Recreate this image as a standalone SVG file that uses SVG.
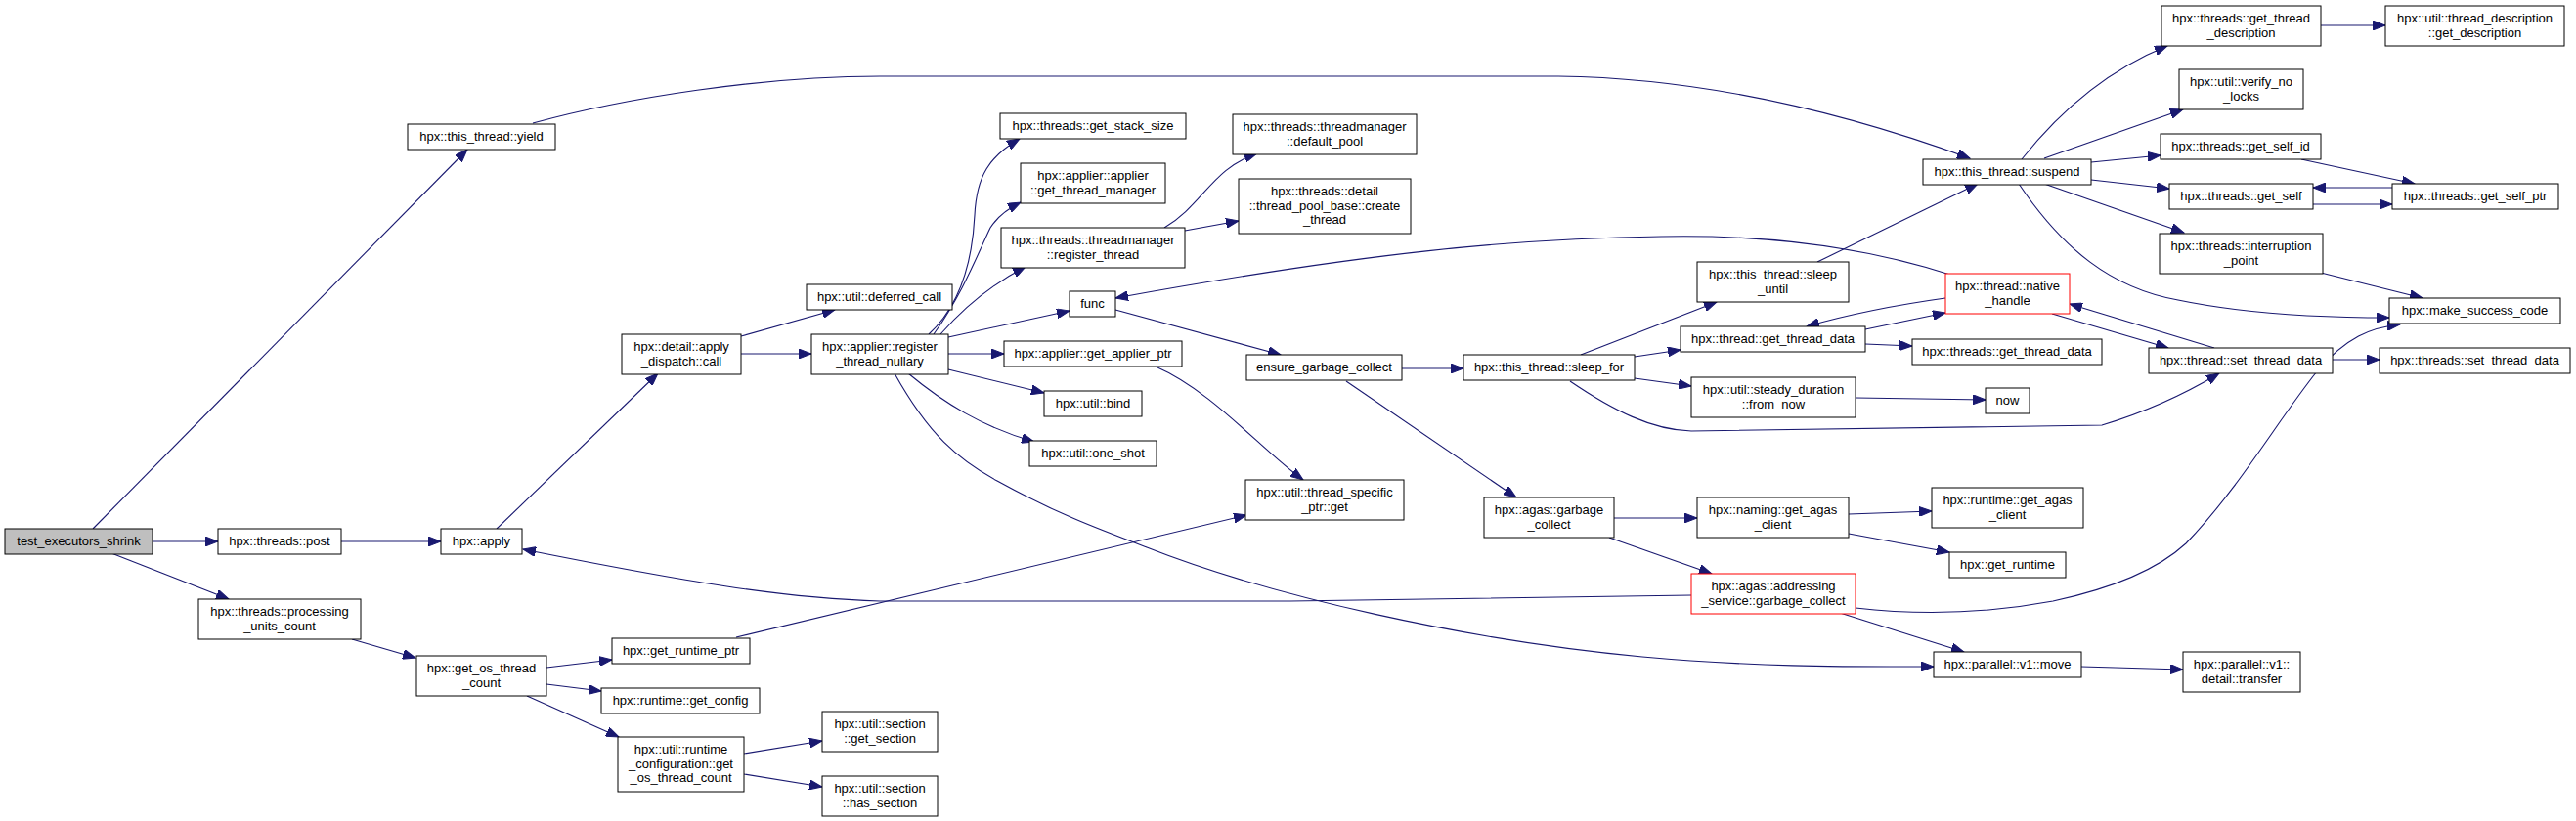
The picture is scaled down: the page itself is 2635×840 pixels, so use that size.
<svg xmlns="http://www.w3.org/2000/svg" width="2635" height="840" viewBox="0 0 2635 840">
<style>
rect{fill:#fff;stroke:#000;stroke-width:1}
.root rect{fill:#bfbfbf}
.red rect{stroke:#ff0000}
text{font-family:"Liberation Sans",Arial,sans-serif;font-size:13px;fill:#000;text-anchor:middle}
#edges path{fill:none;stroke:#191970;stroke-width:1.1;marker-end:url(#ah)}
</style>
<defs>
<marker id="ah" markerUnits="userSpaceOnUse" markerWidth="14" markerHeight="10" refX="13" refY="5" orient="auto" viewBox="0 0 14 10">
<path d="M0,0 L13,5 L0,10 z" fill="#191970" stroke="#191970" stroke-width="1"/>
</marker>
</defs>
<rect x="0" y="0" width="2635" height="840" style="fill:#fff;stroke:none"/>
<g id="edges">
<path d="M95,541 L478,153"/>
<path d="M156,554 L223,554"/>
<path d="M114,566 L234,613"/>
<path d="M349,554 L451,554"/>
<path d="M508,541 L673,382"/>
<path d="M758,344 L854,317"/>
<path d="M758,362 L830,362"/>
<path d="M950,342 C985,310 995,260 997,220 C999,180 1012,160 1043,142"/>
<path d="M955,342 C985,300 1000,260 1013,233 C1020,222 1030,214 1044,207"/>
<path d="M962,342 C990,310 1020,288 1049,273"/>
<path d="M1191,233 C1230,210 1240,172 1286,157"/>
<path d="M1212,236 L1267,226"/>
<path d="M970,345 L1094,318"/>
<path d="M970,362 L1027,362"/>
<path d="M970,378 L1068,402"/>
<path d="M929,382 C965,412 1005,437 1058,452"/>
<path d="M915,382 C950,445 980,470 1020,492 C1080,525 1120,540 1173,560 C1300,610 1500,655 1680,672 C1800,683 1900,682 1978,682"/>
<path d="M1182,375 C1240,400 1290,460 1333,491"/>
<path d="M753,652 L1275,527"/>
<path d="M1141,317 L1310,363"/>
<path d="M1998,282 C1900,250 1800,240 1699,242 C1550,244 1400,258 1141,305"/>
<path d="M1434,377 L1497,377"/>
<path d="M1377,390 L1551,509"/>
<path d="M1617,363 L1756,309"/>
<path d="M1672,365 L1719,358"/>
<path d="M1672,387 L1730,395"/>
<path d="M1606,390 C1650,420 1690,440 1730,441 L2150,435 C2200,420 2240,400 2270,382"/>
<path d="M1898,407 L2031,409"/>
<path d="M1908,337 L1990,320"/>
<path d="M1990,305 C1940,312 1890,322 1848,334"/>
<path d="M1908,352 L1956,354"/>
<path d="M2099,321 L2218,356"/>
<path d="M2265,356 L2117,311"/>
<path d="M2386,368 L2434,368"/>
<path d="M1859,268 L2023,188"/>
<path d="M545,126 C640,100 780,78 900,78 L1594,78 C1750,80 1900,120 2015,162"/>
<path d="M2068,163 C2110,110 2160,70 2217,47"/>
<path d="M2091,162 L2233,112"/>
<path d="M2139,166 L2210,159"/>
<path d="M2139,184 L2219,193"/>
<path d="M2091,188 L2234,238"/>
<path d="M2065,188 C2110,255 2160,295 2228,307 C2300,322 2380,325 2444,325"/>
<path d="M2354,163 L2470,188"/>
<path d="M2447,192 L2366,192"/>
<path d="M2366,209 L2447,209"/>
<path d="M2374,26 L2440,26"/>
<path d="M2374,279 L2478,305"/>
<path d="M1651,530 L1736,530"/>
<path d="M1646,550 L1751,587"/>
<path d="M1891,526 L1976,523"/>
<path d="M1891,546 L1994,565"/>
<path d="M1730,609 L1320,615 L900,615 C800,612 700,595 535,562"/>
<path d="M1882,627 L2009,667"/>
<path d="M1898,622 C1950,628 2020,630 2100,615 C2170,600 2210,580 2236,556 C2290,500 2330,430 2370,380 C2400,345 2425,335 2455,332"/>
<path d="M2129,682 L2233,685"/>
<path d="M559,683 L626,675"/>
<path d="M559,700 L615,707"/>
<path d="M539,712 L633,754"/>
<path d="M761,771 L841,758"/>
<path d="M761,792 L841,805"/>
<path d="M360,654 L425,673"/>
</g>
<g id="n1" class="root"><rect x="5" y="541" width="151" height="26"/><text x="80.5" y="558">test_executors_shrink</text></g>
<g id="n2"><rect x="223" y="541" width="126" height="26"/><text x="286" y="558">hpx::threads::post</text></g>
<g id="n3"><rect x="451" y="541" width="83" height="26"/><text x="492.5" y="558">hpx::apply</text></g>
<g id="n4"><rect x="417" y="127" width="151" height="26"/><text x="492.5" y="144">hpx::this_thread::yield</text></g>
<g id="n5"><rect x="203" y="613" width="166" height="41"/><text x="286" y="630">hpx::threads::processing<tspan x="286" dy="14.5">_units_count</tspan></text></g>
<g id="n6"><rect x="426" y="671" width="133" height="41"/><text x="492.5" y="688">hpx::get_os_thread<tspan x="492.5" dy="14.5">_count</tspan></text></g>
<g id="n7"><rect x="626" y="653" width="141" height="26"/><text x="696.5" y="670">hpx::get_runtime_ptr</text></g>
<g id="n8"><rect x="615" y="704" width="162" height="26"/><text x="696" y="721">hpx::runtime::get_config</text></g>
<g id="n9"><rect x="632" y="754" width="129" height="56"/><text x="696.5" y="771">hpx::util::runtime<tspan x="696.5" dy="14.5">_configuration::get</tspan><tspan x="696.5" dy="14.5">_os_thread_count</tspan></text></g>
<g id="n10"><rect x="841" y="728" width="118" height="41"/><text x="900" y="745">hpx::util::section<tspan x="900" dy="14.5">::get_section</tspan></text></g>
<g id="n11"><rect x="841" y="794" width="118" height="41"/><text x="900" y="811">hpx::util::section<tspan x="900" dy="14.5">::has_section</tspan></text></g>
<g id="n12"><rect x="636" y="342" width="122" height="41"/><text x="697" y="359">hpx::detail::apply<tspan x="697" dy="14.5">_dispatch::call</tspan></text></g>
<g id="n13"><rect x="825" y="291" width="149" height="26"/><text x="899.5" y="308">hpx::util::deferred_call</text></g>
<g id="n14"><rect x="830" y="342" width="140" height="41"/><text x="900" y="359">hpx::applier::register<tspan x="900" dy="14.5">_thread_nullary</tspan></text></g>
<g id="n15"><rect x="1023" y="116" width="190" height="26"/><text x="1118" y="133">hpx::threads::get_stack_size</text></g>
<g id="n16"><rect x="1044" y="167" width="148" height="41"/><text x="1118" y="184">hpx::applier::applier<tspan x="1118" dy="14.5">::get_thread_manager</tspan></text></g>
<g id="n17"><rect x="1024" y="233" width="188" height="41"/><text x="1118" y="250">hpx::threads::threadmanager<tspan x="1118" dy="14.5">::register_thread</tspan></text></g>
<g id="n18"><rect x="1261" y="117" width="188" height="41"/><text x="1355" y="134">hpx::threads::threadmanager<tspan x="1355" dy="14.5">::default_pool</tspan></text></g>
<g id="n19"><rect x="1267" y="183" width="176" height="56"/><text x="1355" y="200">hpx::threads::detail<tspan x="1355" dy="14.5">::thread_pool_base::create</tspan><tspan x="1355" dy="14.5">_thread</tspan></text></g>
<g id="n20"><rect x="1094" y="298" width="47" height="26"/><text x="1117.5" y="315">func</text></g>
<g id="n21"><rect x="1027" y="349" width="182" height="26"/><text x="1118" y="366">hpx::applier::get_applier_ptr</text></g>
<g id="n22"><rect x="1068" y="400" width="100" height="26"/><text x="1118" y="417">hpx::util::bind</text></g>
<g id="n23"><rect x="1053" y="451" width="130" height="26"/><text x="1118" y="468">hpx::util::one_shot</text></g>
<g id="n24"><rect x="1274" y="491" width="162" height="41"/><text x="1355" y="508">hpx::util::thread_specific<tspan x="1355" dy="14.5">_ptr::get</tspan></text></g>
<g id="n25"><rect x="1275" y="363" width="159" height="26"/><text x="1354.5" y="380">ensure_garbage_collect</text></g>
<g id="n26"><rect x="1497" y="363" width="175" height="26"/><text x="1584.5" y="380">hpx::this_thread::sleep_for</text></g>
<g id="n27"><rect x="1736" y="268" width="155" height="41"/><text x="1813.5" y="285">hpx::this_thread::sleep<tspan x="1813.5" dy="14.5">_until</tspan></text></g>
<g id="n28"><rect x="1719" y="334" width="189" height="26"/><text x="1813.5" y="351">hpx::thread::get_thread_data</text></g>
<g id="n29"><rect x="1730" y="386" width="168" height="41"/><text x="1814" y="403">hpx::util::steady_duration<tspan x="1814" dy="14.5">::from_now</tspan></text></g>
<g id="n30"><rect x="1518" y="509" width="133" height="41"/><text x="1584.5" y="526">hpx::agas::garbage<tspan x="1584.5" dy="14.5">_collect</tspan></text></g>
<g id="n31"><rect x="1736" y="509" width="155" height="41"/><text x="1813.5" y="526">hpx::naming::get_agas<tspan x="1813.5" dy="14.5">_client</tspan></text></g>
<g id="n32" class="red"><rect x="1730" y="587" width="168" height="41"/><text x="1814" y="604">hpx::agas::addressing<tspan x="1814" dy="14.5">_service::garbage_collect</tspan></text></g>
<g id="n33"><rect x="1967" y="163" width="172" height="26"/><text x="2053" y="180">hpx::this_thread::suspend</text></g>
<g id="n34" class="red"><rect x="1990" y="280" width="127" height="41"/><text x="2053.5" y="297">hpx::thread::native<tspan x="2053.5" dy="14.5">_handle</tspan></text></g>
<g id="n35"><rect x="1956" y="347" width="194" height="26"/><text x="2053" y="364">hpx::threads::get_thread_data</text></g>
<g id="n36"><rect x="2031" y="397" width="45" height="26"/><text x="2053.5" y="414">now</text></g>
<g id="n37"><rect x="1976" y="499" width="155" height="41"/><text x="2053.5" y="516">hpx::runtime::get_agas<tspan x="2053.5" dy="14.5">_client</tspan></text></g>
<g id="n38"><rect x="1994" y="565" width="119" height="26"/><text x="2053.5" y="582">hpx::get_runtime</text></g>
<g id="n39"><rect x="1978" y="667" width="151" height="26"/><text x="2053.5" y="684">hpx::parallel::v1::move</text></g>
<g id="n40"><rect x="2233" y="667" width="120" height="41"/><text x="2293" y="684">hpx::parallel::v1::<tspan x="2293" dy="14.5">detail::transfer</tspan></text></g>
<g id="n41"><rect x="2198" y="356" width="188" height="26"/><text x="2292" y="373">hpx::thread::set_thread_data</text></g>
<g id="n42"><rect x="2434" y="356" width="195" height="26"/><text x="2531.5" y="373">hpx::threads::set_thread_data</text></g>
<g id="n43"><rect x="2444" y="305" width="175" height="26"/><text x="2531.5" y="322">hpx::make_success_code</text></g>
<g id="n44"><rect x="2211" y="6" width="163" height="41"/><text x="2292.5" y="23">hpx::threads::get_thread<tspan x="2292.5" dy="14.5">_description</tspan></text></g>
<g id="n45"><rect x="2440" y="6" width="183" height="41"/><text x="2531.5" y="23">hpx::util::thread_description<tspan x="2531.5" dy="14.5">::get_description</tspan></text></g>
<g id="n46"><rect x="2229" y="71" width="127" height="41"/><text x="2292.5" y="88">hpx::util::verify_no<tspan x="2292.5" dy="14.5">_locks</tspan></text></g>
<g id="n47"><rect x="2210" y="137" width="164" height="26"/><text x="2292" y="154">hpx::threads::get_self_id</text></g>
<g id="n48"><rect x="2219" y="188" width="147" height="26"/><text x="2292.5" y="205">hpx::threads::get_self</text></g>
<g id="n49"><rect x="2447" y="188" width="170" height="26"/><text x="2532" y="205">hpx::threads::get_self_ptr</text></g>
<g id="n50"><rect x="2209" y="239" width="167" height="41"/><text x="2292.5" y="256">hpx::threads::interruption<tspan x="2292.5" dy="14.5">_point</tspan></text></g>
</svg>
